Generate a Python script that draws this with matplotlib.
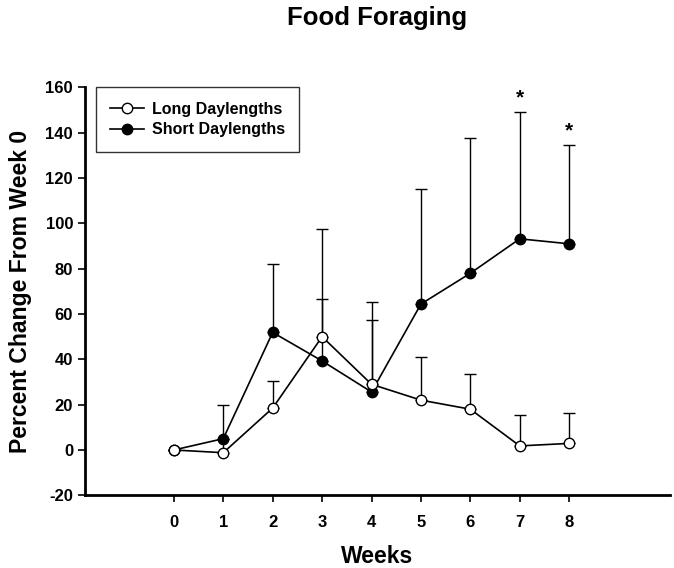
import matplotlib.pyplot as plt
from matplotlib.lines import Line2D
import numpy as np

plt.rcParams['font.family'] = ['Liberation Sans', 'DejaVu Sans']
plt.rcParams['font.weight'] = 'bold'
plt.rcParams['axes.unicode_minus'] = False

weeks = [0, 1, 2, 3, 4, 5, 6, 7, 8]
long_mean = [0, -1.2, 18.5, 50.0, 29.0, 22.0, 18.0, 1.8, 2.9]
long_err = [0, 6.0, 11.8, 16.5, 28.5, 18.9, 15.7, 13.6, 13.4]
short_mean = [0, 5.0, 51.9, 39.3, 25.6, 64.4, 78.0, 93.2, 91.0]
short_err = [0, 15.0, 30.1, 58.2, 39.8, 50.9, 59.5, 55.8, 43.5]
signif_weeks = [7, 8]

fig = plt.figure(figsize=(6.74, 5.68), dpi=100)
ax = fig.add_axes([0.126, 0.128, 0.868, 0.718])

zeros = np.zeros(len(weeks))
ax.errorbar(weeks, short_mean, yerr=[zeros, short_err], color='black', lw=1.2,
            elinewidth=1.0, capsize=4.5, capthick=1.0, marker='o', ms=7.5,
            mfc='black', mec='black', zorder=2)
ax.errorbar(weeks, long_mean, yerr=[zeros, long_err], color='black', lw=1.2,
            elinewidth=1.0, capsize=4.5, capthick=1.0, marker='o', ms=7.5,
            mfc='white', mec='black', zorder=3)

for w in signif_weeks:
    top = short_mean[w] + short_err[w]
    ax.text(w, top + 2, '*', ha='center', va='bottom', fontsize=15)

ax.set_xlim(-1.8, 10.04)
ax.set_ylim(-20, 160)
ax.set_xticks(weeks)
ax.set_yticks(np.arange(-20, 161, 20))
ax.tick_params(labelsize=12, length=5, width=1.2, direction='out')
ax.tick_params(axis='x', pad=9)
for s in ['top', 'right']:
    ax.spines[s].set_visible(False)
for s in ['left', 'bottom']:
    ax.spines[s].set_linewidth(2)

ax.set_xlabel('Weeks', fontsize=16.5, fontweight='bold', labelpad=11)
ax.set_ylabel('Percent Change From Week 0', fontsize=16.6, fontweight='bold', labelpad=10)
ax.set_title('Food Foraging', fontsize=18.5, fontweight='bold', pad=45)

handles = [
    Line2D([], [], color='black', lw=1.2, marker='o', ms=7.5, mfc='white', mec='black'),
    Line2D([], [], color='black', lw=1.2, marker='o', ms=7.5, mfc='black', mec='black'),
]
leg = ax.legend(handles, ['Long Daylengths', 'Short Daylengths'], loc='upper left',
                bbox_to_anchor=(0.019, 1.0), borderaxespad=0, fontsize=11.5,
                frameon=True, fancybox=False, edgecolor='black', borderpad=0.9,
                handlelength=2.1, handletextpad=0.5, labelspacing=0.35)
leg.get_frame().set_linewidth(1.0)

fig.savefig('out.png', dpi=100)
